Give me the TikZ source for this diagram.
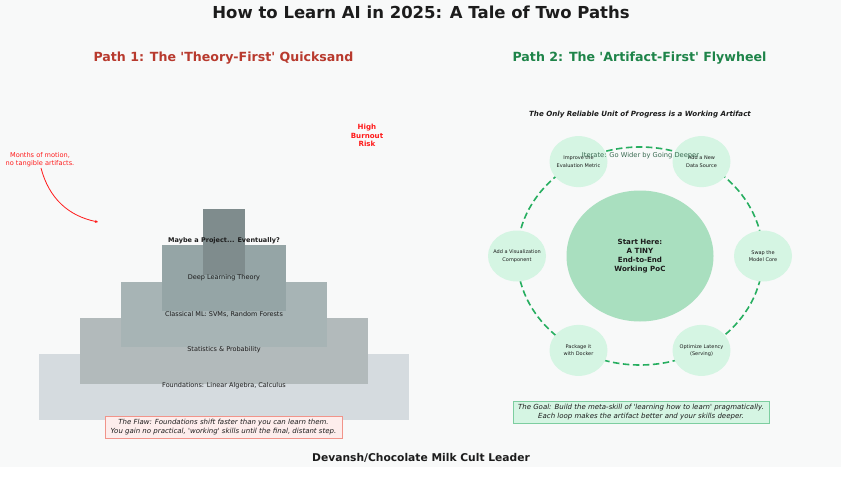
\documentclass[tikz,border=0pt]{standalone}
\usepackage{fontspec}
\setmainfont{DejaVu Sans}
\usetikzlibrary{shapes.geometric,arrows.meta}
\definecolor{bgc}{HTML}{F8F9F9}
\definecolor{txt}{HTML}{1C1C1C}
\definecolor{pathred}{HTML}{B83A2E}
\definecolor{pathgreen}{HTML}{1E8449}
\definecolor{hotred}{HTML}{FF1A1A}
\definecolor{layA}{HTML}{D5DBDF}
\definecolor{layB}{HTML}{B2BABB}
\definecolor{layC}{HTML}{A7B4B5}
\definecolor{layD}{HTML}{95A5A6}
\definecolor{layE}{HTML}{7F8C8D}
\definecolor{loopgreen}{HTML}{27AE60}
\definecolor{coreg}{HTML}{A9DFBF}
\definecolor{satg}{HTML}{D5F5E3}
\definecolor{iterc}{HTML}{3A6B52}
\definecolor{flawfill}{HTML}{FDEDEC}
\definecolor{flawdraw}{HTML}{F1948A}
\definecolor{goaldraw}{HTML}{7DCEA0}
\newcommand{\sq}{\textquotesingle}
\tikzset{
  layer/.style={rectangle,inner sep=0pt,draw=none},
  lab/.style={font=\fontsize{6.5}{7}\selectfont,text=txt,inner sep=0pt},
  sat/.style={ellipse,fill=satg,draw=none,minimum width=58pt,minimum height=51pt,inner sep=0pt},
  satlab/.style={inner sep=0pt,align=center,text=txt,font=\fontsize{5}{7.3}\selectfont},
  notebox/.style={rectangle,inner sep=0pt,align=center,text=txt,font=\fontsize{7}{9}\selectfont\itshape,line width=0.7pt},
}
\begin{document}
\begin{tikzpicture}[x=1pt,y=-1pt]
\useasboundingbox (0,0) rectangle (841,487);
\fill[bgc] (0,0) rectangle (841,467);

% titles
\node[font=\fontsize{16.5}{19}\selectfont\bfseries,text=txt] (title) at (421,12) {How to Learn AI in 2025: A Tale of Two Paths};
\node[font=\fontsize{12.6}{15}\selectfont\bfseries,text=pathred] (p1) at (223.5,58) {Path 1: The \sq Theory-First\sq{} Quicksand};
\node[font=\fontsize{12.6}{15}\selectfont\bfseries,text=pathgreen] (p2) at (639.5,58) {Path 2: The \sq Artifact-First\sq{} Flywheel};

% left: pyramid
\node[layer,fill=layA,minimum width=370pt,minimum height=66pt] (found) at (224,387) {};
\node[layer,fill=layB,minimum width=288pt,minimum height=66pt] (stats) at (224,351) {};
\node[layer,fill=layC,minimum width=206pt,minimum height=65pt] (cml) at (224,314.5) {};
\node[layer,fill=layD,minimum width=124pt,minimum height=66pt] (dlt) at (224,278) {};
\node[layer,fill=layE,minimum width=42pt,minimum height=66pt] (proj) at (224,242) {};
\node[lab] (foundl) at (224,386) {Foundations: Linear Algebra, Calculus};
\node[lab] (statsl) at (224,350) {Statistics \& Probability};
\node[lab] (cmll) at (224,314) {Classical ML: SVMs, Random Forests};
\node[lab] (dltl) at (224,277.5) {Deep Learning Theory};
\node[lab,font=\fontsize{6.5}{7}\selectfont\bfseries] (projl) at (224,241) {Maybe a Project... Eventually?};

\node[align=center,text=hotred,font=\fontsize{7.1}{8.5}\selectfont\bfseries,inner sep=0pt] (burn) at (367,135.5) {High\\Burnout\\Risk};
\node[align=center,text=hotred,font=\fontsize{6.6}{7.5}\selectfont,inner sep=0pt] (months) at (40,159.5) {Months of motion,\\no tangible artifacts.};
\coordinate (arrend) at (98,222);
\draw[hotred,line width=0.8pt,-{Stealth[length=3pt,width=3pt]}] (41,168) to[bend right=32] (arrend);

\node[notebox,fill=flawfill,draw=flawdraw,minimum width=237pt,minimum height=22.5pt] (flaw) at (223.5,427.3) {The Flaw: Foundations shift faster than you can learn them.\\You gain no practical, \sq working\sq{} skills until the final, distant step.};

% right: flywheel
\node[font=\fontsize{7.1}{8}\selectfont\bfseries\itshape,text=txt] (sub) at (640,115) {The Only Reliable Unit of Progress is a Working Artifact};
\node[ellipse,draw=loopgreen,dash pattern=on 6.5pt off 3.5pt,line width=1.6pt,minimum width=246pt,minimum height=218pt,inner sep=0pt] (loop) at (640,256) {};
\node[ellipse,fill=coreg,minimum width=147pt,minimum height=131pt,inner sep=0pt,align=center,text=txt,font=\fontsize{7.1}{9}\selectfont\bfseries] (core) at (640,256) {Start Here:\\A TINY\\End-to-End\\Working PoC};
\node[sat] (s0) at (763,256) {};
\node[sat] (s60) at (701.5,161.6) {};
\node[sat] (s120) at (578.5,161.6) {};
\node[sat] (s180) at (517,256) {};
\node[sat] (s240) at (578.5,350.4) {};
\node[sat] (s300) at (701.5,350.4) {};
\node[satlab] (s0l) at (s0) {Swap the\\Model Core};
\node[satlab] (s60l) at (s60) {Add a New\\Data Source};
\node[satlab] (s120l) at (s120) {Improve the\\Evaluation Metric};
\node[satlab] (s180l) at (s180) {Add a Visualization\\Component};
\node[satlab] (s240l) at (s240) {Package it\\with Docker};
\node[satlab] (s300l) at (s300) {Optimize Latency\\(Serving)};
\node[text=iterc,font=\fontsize{6.7}{8}\selectfont,inner sep=0pt] (iter) at (640.5,155.7) {Iterate: Go Wider by Going Deeper};

\node[notebox,fill=satg,draw=goaldraw,minimum width=256pt,minimum height=21.5pt] (goal) at (641,412.4) {The Goal: Build the meta-skill of \sq learning how to learn\sq{} pragmatically.\\Each loop makes the artifact better and your skills deeper.};

\node[font=\fontsize{10.7}{12}\selectfont\bfseries,text=txt] (foot) at (421,458) {Devansh/Chocolate Milk Cult Leader};
\end{tikzpicture}
\end{document}
